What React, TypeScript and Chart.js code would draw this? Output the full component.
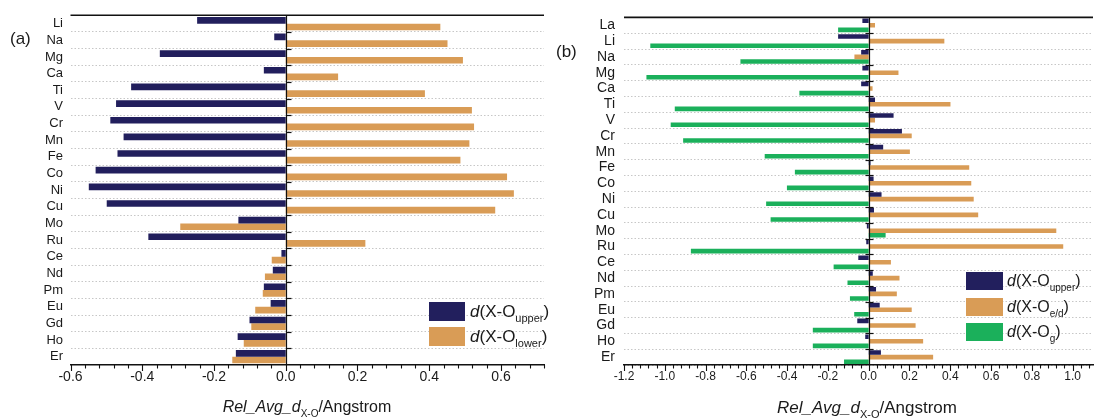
import React, { useEffect, useRef } from "react";
import { Chart, registerables } from "chart.js";

Chart.register(...registerables);

const FONT = '"Liberation Sans", Arial, Helvetica, sans-serif';

// Panel (a): relative average X–O distances, upper vs lower
const elementsA = ["Li", "Na", "Mg", "Ca", "Ti", "V", "Cr", "Mn", "Fe", "Co", "Ni", "Cu", "Mo", "Ru", "Ce", "Nd", "Pm", "Eu", "Gd", "Ho", "Er"];
const upperA = [-0.247, -0.032, -0.351, -0.061, -0.431, -0.473, -0.489, -0.452, -0.469, -0.53, -0.549, -0.499, -0.132, -0.383, -0.012, -0.036, -0.061, -0.042, -0.101, -0.134, -0.139];
const lowerA = [0.431, 0.451, 0.494, 0.146, 0.388, 0.519, 0.525, 0.512, 0.487, 0.617, 0.636, 0.584, -0.294, 0.222, -0.039, -0.058, -0.064, -0.085, -0.096, -0.117, -0.149];

// Panel (b): upper, e/d and g distances
const elementsB = ["La", "Li", "Na", "Mg", "Ca", "Ti", "V", "Cr", "Mn", "Fe", "Co", "Ni", "Cu", "Mo", "Ru", "Ce", "Nd", "Pm", "Eu", "Gd", "Ho", "Er"];
const upperB = [-0.031, -0.15, -0.037, -0.031, -0.037, 0.031, 0.122, 0.163, 0.071, 0.009, 0.024, 0.063, 0.026, -0.009, -0.012, -0.051, 0.02, 0.036, 0.054, -0.056, -0.017, 0.06];
const edB = [0.031, 0.371, -0.07, 0.146, 0.019, 0.401, 0.031, 0.211, 0.202, 0.493, 0.503, 0.515, 0.537, 0.92, 0.954, 0.109, 0.151, 0.138, 0.211, 0.23, 0.267, 0.316];
const gB = [-0.15, -1.071, -0.629, -1.09, -0.34, -0.951, -0.971, -0.91, -0.51, -0.362, -0.401, -0.503, -0.481, 0.083, -0.872, -0.172, -0.104, -0.092, -0.071, -0.274, -0.274, -0.121];

// Axis ranges and labelled tick values
const rangeA = [-0.6, 0.72];
const rangeB = [-1.2, 1.1];
const tickLabelsA = [-0.6, -0.4, -0.2, 0.0, 0.2, 0.4, 0.6];
const tickLabelsB = [-1.2, -1.0, -0.8, -0.6, -0.4, -0.2, 0.0, 0.2, 0.4, 0.6, 0.8, 1.0];
const majorStep = 0.2;
const minorStep = 0.04;

const NAVY = "#221f5d";
const TAN = "#d99c56";
const GREEN = "#1bb05b";

// Draws the top rule, the zero line with its small ticks, and major/minor x ticks
const framePlugin = {
  id: "frame",
  afterDatasetsDraw(chart: any, _args: any, opts: any) {
    const { ctx, chartArea: a, scales } = chart;
    const xs = scales.x;
    const ys = scales.y;
    ctx.save();
    ctx.strokeStyle = "#111";
    ctx.lineWidth = 1.6;
    ctx.beginPath();
    ctx.moveTo(a.left, a.top);
    ctx.lineTo(a.right, a.top);
    ctx.stroke();

    const x0 = Math.round(xs.getPixelForValue(0)) + 0.5;
    ctx.lineWidth = 1.2;
    ctx.beginPath();
    ctx.moveTo(x0, a.top);
    ctx.lineTo(x0, a.bottom);
    ctx.stroke();

    const n = ys.ticks.length;
    ctx.lineWidth = 1.2;
    for (let i = 1; i < n; i++) {
      const yy = Math.round((ys.getPixelForTick(i - 1) + ys.getPixelForTick(i)) / 2) + 0.5;
      ctx.beginPath();
      ctx.moveTo(x0 - opts.zeroTickLeft, yy);
      ctx.lineTo(x0 + opts.zeroTickRight, yy);
      ctx.stroke();
    }

    const [lo, hi] = opts.range;
    const count = Math.floor((hi - lo) / minorStep + 1e-6);
    const every = Math.round(majorStep / minorStep);
    ctx.lineWidth = 1.1;
    for (let i = 0; i <= count; i++) {
      const v = lo + i * minorStep;
      const px = Math.round(xs.getPixelForValue(v)) + 0.5;
      const len = i % every === 0 ? 6 : 3.5;
      ctx.beginPath();
      ctx.moveTo(px, a.bottom);
      ctx.lineTo(px, a.bottom + len);
      ctx.stroke();
    }
    ctx.restore();
  },
};

function makeConfig(p: {
  labels: string[];
  datasets: any[];
  range: number[];
  tickValues: number[];
  axisWidth: number;
  labelPad: number;
  labelSize: number;
  tickSize: number;
  padRight: number;
  padTop: number;
  catPct: number;
  zeroTickLeft: number;
  zeroTickRight: number;
}): any {
  return {
    type: "bar",
    data: {
      labels: p.labels,
      datasets: p.datasets.map((d) => ({
        ...d,
        borderWidth: 0,
        categoryPercentage: p.catPct,
        barPercentage: 1.0,
      })),
    },
    options: {
      indexAxis: "y",
      responsive: false,
      animation: false,
      devicePixelRatio: 1,
      layout: { padding: { top: p.padTop, right: p.padRight, left: 0, bottom: 0 } },
      plugins: {
        legend: { display: false },
        tooltip: { enabled: false },
        frame: { range: p.range, zeroTickLeft: p.zeroTickLeft, zeroTickRight: p.zeroTickRight },
      },
      scales: {
        x: {
          type: "linear",
          min: p.range[0],
          max: p.range[1],
          afterBuildTicks: (s: any) => {
            s.ticks = p.tickValues.map((v) => ({ value: v }));
          },
          ticks: {
            autoSkip: false,
            maxRotation: 0,
            padding: 4,
            color: "#1a1a1a",
            font: { family: FONT, size: p.tickSize },
            callback: (v: any) => Number(v).toFixed(1),
          },
          grid: { display: false, drawTicks: false },
          border: { display: true, color: "#111", width: 1.5 },
          afterFit: (s: any) => {
            s.height = 54;
          },
        },
        y: {
          type: "category",
          ticks: {
            autoSkip: false,
            padding: p.labelPad,
            color: "#1a1a1a",
            font: { family: FONT, size: p.labelSize },
          },
          grid: { color: "rgba(0,0,0,0.22)", lineWidth: 1, drawTicks: false, offset: true },
          border: { display: false, dash: [1.5, 2] },
          afterFit: (s: any) => {
            s.width = p.axisWidth;
          },
        },
      },
    },
    plugins: [framePlugin],
  };
}

function LegendRow(props: { x: number; y: number; w: number; h: number; color: string; sub: string; size: number; gap: number }) {
  const { x, y, w, h, color, sub, size, gap } = props;
  return (
    <>
      <div style={{ position: "absolute", left: x, top: y, width: w, height: h, background: color }} />
      <div
        style={{
          position: "absolute",
          left: x + w + gap,
          top: y - 3,
          height: h + 6,
          lineHeight: `${h + 6}px`,
          fontSize: size,
          whiteSpace: "nowrap",
          color: "#1a1a1a",
        }}
      >
        <i>d</i>(X-O<span style={{ fontSize: Math.round(size * 0.64), verticalAlign: -Math.round(size * 0.32) }}>{sub}</span>)
      </div>
    </>
  );
}

function AxisTitle(props: { center: number; top: number; size: number }) {
  const { center, top, size } = props;
  return (
    <div
      style={{
        position: "absolute",
        left: center - 150,
        width: 300,
        top,
        textAlign: "center",
        fontSize: size,
        lineHeight: `${size + 4}px`,
        whiteSpace: "nowrap",
        color: "#1a1a1a",
      }}
    >
      <i>Rel_Avg_d</i>
      <span style={{ fontSize: Math.round(size * 0.64), verticalAlign: -Math.round(size * 0.3) }}>X-O</span>
      /Angstrom
    </div>
  );
}

export default function App() {
  const refA = useRef<HTMLCanvasElement>(null);
  const refB = useRef<HTMLCanvasElement>(null);

  useEffect(() => {
    const chartA = new Chart(
      refA.current as HTMLCanvasElement,
      makeConfig({
        labels: elementsA,
        datasets: [
          { label: "d(X-O upper)", data: upperA, backgroundColor: NAVY },
          { label: "d(X-O lower)", data: lowerA, backgroundColor: TAN },
        ],
        range: rangeA,
        tickValues: tickLabelsA,
        axisWidth: 70.5,
        labelPad: 7.5,
        labelSize: 13,
        tickSize: 14,
        padRight: 4,
        padTop: 12,
        catPct: 0.8,
        zeroTickLeft: 0,
        zeroTickRight: 5,
      })
    );
    const chartB = new Chart(
      refB.current as HTMLCanvasElement,
      makeConfig({
        labels: elementsB,
        datasets: [
          { label: "d(X-O upper)", data: upperB, backgroundColor: NAVY },
          { label: "d(X-O e/d)", data: edB, backgroundColor: TAN },
          { label: "d(X-O g)", data: gB, backgroundColor: GREEN },
        ],
        range: rangeB,
        tickValues: tickLabelsB,
        axisWidth: 76,
        labelPad: 9,
        labelSize: 14,
        tickSize: 12,
        padRight: 1,
        padTop: 12.7,
        catPct: 0.875,
        zeroTickLeft: 4,
        zeroTickRight: 4,
      })
    );
    return () => {
      chartA.destroy();
      chartB.destroy();
    };
  }, []);

  return (
    <div
      style={{
        position: "absolute",
        left: 0,
        top: 0,
        width: 1094,
        height: 419,
        background: "#fff",
        overflow: "hidden",
        fontFamily: FONT,
      }}
    >
      <canvas ref={refA} width={548} height={419} style={{ position: "absolute", left: 0, top: 0 }} />
      <canvas ref={refB} width={546} height={419} style={{ position: "absolute", left: 548, top: 0 }} />

      <div style={{ position: "absolute", left: 10, top: 29, fontSize: 17, lineHeight: "20px", color: "#1a1a1a" }}>(a)</div>
      <div style={{ position: "absolute", left: 556, top: 42, fontSize: 17, lineHeight: "20px", color: "#1a1a1a" }}>(b)</div>

      <LegendRow x={429} y={302} w={36} h={19} color={NAVY} sub="upper" size={17} gap={5} />
      <LegendRow x={429} y={327} w={36} h={19} color={TAN} sub="lower" size={17} gap={5} />

      <LegendRow x={966} y={272} w={37} h={18} color={NAVY} sub="upper" size={16} gap={4} />
      <LegendRow x={966} y={298} w={37} h={18} color={TAN} sub="e/d" size={16} gap={4} />
      <LegendRow x={966} y={323} w={37} h={18} color={GREEN} sub="g" size={16} gap={4} />

      <AxisTitle center={307} top={397} size={16} />
      <AxisTitle center={867} top={397} size={17} />
    </div>
  );
}
